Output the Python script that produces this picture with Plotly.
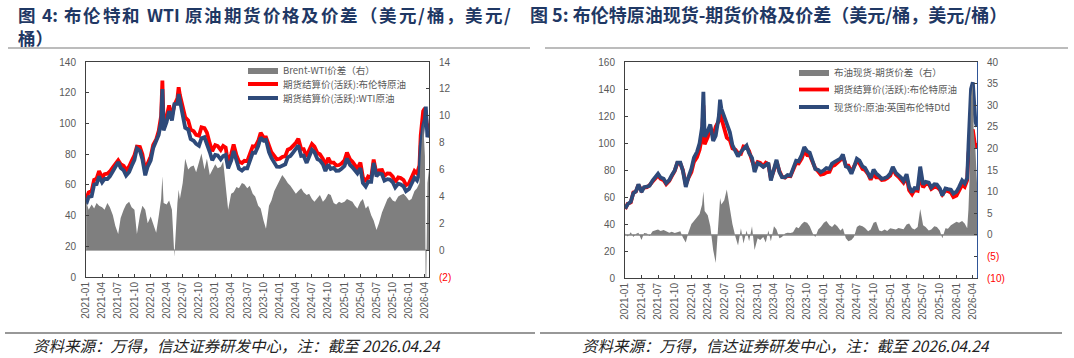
import plotly.graph_objects as go

# ---------------- data (semi-monthly readings from the picture) ----------------
dates = (
    [f"2021-{m:02d}-{d}" for m in range(1, 13) for d in ("01", "15")]
    + ["2022-01-01", "2022-01-15", "2022-02-01", "2022-02-15", "2022-03-01", "2022-03-08",
       "2022-03-15", "2022-04-01", "2022-04-15", "2022-05-01", "2022-05-15", "2022-06-01",
       "2022-06-08", "2022-06-15", "2022-07-01", "2022-07-15", "2022-08-01", "2022-08-15",
       "2022-09-01", "2022-09-15", "2022-10-01", "2022-10-15", "2022-11-01", "2022-11-15",
       "2022-12-01", "2022-12-15"]
    + [f"{y}-{m:02d}-{d}" for y in (2023, 2024, 2025) for m in range(1, 13) for d in ("01", "15")]
    + ["2026-01-01", "2026-01-15", "2026-02-01", "2026-02-15", "2026-03-01", "2026-03-08",
       "2026-03-15", "2026-03-22", "2026-04-01", "2026-04-06", "2026-04-15", "2026-04-24"]
)

brent_fut = [
    51.1, 55.1, 56.0, 63.3, 64.0, 68.9, 64.9, 66.9, 67.3, 68.7, 71.4, 74.0, 76.0, 73.5, 72.4, 69.5, 72.0, 75.5, 79.3, 84.9, 84.7, 80.0, 69.2, 73.9,
    78.5, 86.0, 89.5, 95.0, 105.0, 127.9, 99.0, 104.4, 111.7, 105.0, 112.0, 116.3, 123.6, 118.5, 111.6, 104.0, 102.0, 96.0, 95.0, 92.5, 92.0, 97.5, 97.0, 94.0, 87.0, 82.0,
    85.9, 85.3, 82.8, 85.4, 84.3, 73.7, 79.9, 86.3, 79.3, 75.2, 74.3, 75.7, 75.4, 79.9, 85.1, 84.9, 88.6, 93.9, 91.0, 90.9, 84.6, 81.2, 78.9, 76.6,
    77.0, 78.2, 78.7, 82.9, 83.6, 85.3, 87.4, 90.1, 83.4, 83.3, 78.4, 82.6, 86.6, 84.9, 80.7, 80.0, 76.9, 72.8, 77.5, 74.5, 74.5, 72.6, 72.9, 73.9,
    75.9, 81.0, 76.7, 75.0, 73.0, 70.6, 74.5, 65.0, 62.0, 65.4, 64.6, 76.5, 67.1, 69.5, 69.7, 65.9, 67.5, 67.4, 65.4, 61.9, 64.8, 64.4, 63.2, 59.9,
    61.0, 64.5, 69.0, 67.5, 72.5, 92.0, 103.0, 108.0, 110.0, 106.0, 96.0, 100.0,
]

wti_fut = [
    47.5, 52.1, 52.6, 60.2, 60.5, 65.6, 61.7, 63.9, 63.8, 65.5, 68.8, 72.2, 74.8, 71.1, 69.4, 66.1, 68.4, 72.3, 76.3, 83.7, 82.1, 76.7, 66.2, 71.9,
    76.0, 84.0, 88.2, 92.5, 101.2, 122.4, 95.5, 101.0, 108.0, 102.0, 112.5, 112.8, 119.1, 114.7, 106.6, 97.2, 96.0, 89.8, 88.7, 86.7, 85.5, 90.3, 91.0, 87.2, 81.4, 76.0,
    79.5, 79.2, 76.6, 78.8, 79.5, 70.7, 75.7, 82.0, 74.6, 70.6, 69.3, 70.8, 70.8, 75.1, 80.9, 80.9, 85.3, 90.8, 88.8, 89.3, 81.3, 77.5, 74.5, 71.8,
    71.7, 72.6, 73.4, 77.9, 78.8, 80.8, 83.2, 85.7, 78.8, 79.0, 74.3, 78.4, 82.8, 81.3, 76.8, 75.9, 73.3, 69.0, 73.3, 70.4, 71.0, 69.2, 69.3, 70.4,
    72.3, 77.2, 73.0, 71.4, 69.7, 67.5, 70.9, 61.2, 58.9, 62.1, 62.0, 74.3, 65.6, 67.5, 66.9, 62.7, 63.7, 63.4, 61.7, 58.3, 60.8, 60.3, 59.0, 55.9,
    57.3, 60.7, 64.6, 62.9, 67.5, 85.0, 94.5, 98.5, 103.0, 111.0, 91.0, 94.0,
]

brent_wti_spread = [
    3.6, 3.0, 3.4, 3.1, 3.5, 3.3, 3.2, 3.0, 3.5, 3.2, 2.6, 1.8, 1.2, 2.4, 3.0, 3.4, 3.6, 3.2, 3.0, 1.2, 2.6, 3.3, 3.0, 2.0,
    2.5, 2.0, 1.3, 2.5, 3.8, 5.5, 3.5, 3.4, 3.7, 3.0, -0.5, 3.5, 4.5, 3.8, 5.0, 6.8, 6.0, 6.2, 6.3, 5.8, 6.5, 7.2, 6.0, 6.8, 5.6, 6.0,
    6.4, 6.1, 6.2, 6.6, 4.8, 3.0, 4.2, 4.3, 4.7, 4.6, 5.0, 4.9, 4.6, 4.8, 4.2, 4.0, 3.3, 3.1, 2.2, 1.6, 3.3, 3.7, 4.4, 4.8,
    5.3, 5.6, 5.3, 5.0, 4.8, 4.5, 4.2, 4.4, 4.6, 4.3, 4.1, 4.2, 3.8, 3.6, 3.9, 4.1, 3.6, 3.8, 4.2, 4.1, 3.5, 3.4, 3.6, 3.5,
    3.6, 3.8, 3.7, 3.6, 3.3, 3.1, 3.6, 3.8, 3.1, 3.3, 2.6, 2.2, 1.5, 2.0, 2.8, 3.2, 3.8, 4.0, 3.7, 3.6, 4.0, 4.1, 4.2, 4.0,
    3.7, 3.8, 4.4, 4.6, 5.0, 7.0, 8.5, 9.5, 7.0, -5.0, 5.0, 6.0,
]

brent_dtd = [
    51.4, 54.7, 56.6, 62.8, 64.2, 69.4, 63.7, 67.3, 67.6, 68.4, 72.2, 75.0, 77.2, 74.4, 73.5, 70.3, 72.5, 76.2, 79.7, 85.5, 85.5, 79.4, 67.4, 74.4,
    81.0, 89.2, 93.5, 99.8, 112.0, 137.9, 104.5, 108.9, 113.7, 101.5, 105.5, 119.8, 132.1, 125.5, 119.6, 114.5, 108.0, 98.5, 94.5, 90.0, 93.5, 95.5, 98.0, 92.5, 89.0, 78.5,
    85.1, 84.1, 82.3, 83.6, 85.3, 72.2, 81.9, 87.5, 78.5, 74.7, 74.6, 76.2, 75.8, 80.5, 86.9, 86.4, 91.1, 96.9, 93.8, 92.9, 84.9, 80.7, 80.1, 78.4,
    79.8, 81.4, 80.9, 84.7, 86.1, 87.3, 88.4, 91.6, 82.6, 81.8, 77.2, 82.1, 88.4, 87.1, 82.7, 81.6, 77.7, 74.0, 80.3, 77.5, 75.5, 73.4, 74.1, 74.8,
    77.4, 82.3, 77.9, 76.6, 74.5, 71.9, 76.9, 67.6, 63.5, 66.6, 66.4, 82.5, 69.3, 71.3, 70.7, 67.1, 69.5, 69.2, 66.4, 61.1, 66.3, 65.8, 65.4, 62.5,
    64.0, 67.3, 72.2, 70.1, 74.0, 98.0, 117.0, 140.0, 145.0, 130.0, 116.0, 112.0,
]

spot_fut_spread = [
    0.3, -0.4, 0.6, -0.5, 0.2, 0.5, -1.2, 0.4, 0.3, -0.3, 0.8, 1.0, 1.2, 0.9, 1.1, 0.8, 0.5, 0.7, 0.4, 0.6, 0.8, -0.6, -1.8, 0.5,
    2.5, 3.2, 4.0, 4.8, 7.0, 10.0, 5.5, 4.5, 2.0, -3.5, -6.5, 3.5, 8.5, 7.0, 8.0, 10.5, 6.0, 2.5, -0.5, -2.5, 1.5, -2.0, 1.0, -1.5, 2.0, -3.5,
    -0.8, -1.2, -0.5, -1.8, 1.0, -1.5, 2.0, 1.2, -0.8, -0.5, 0.3, 0.5, 0.4, 0.6, 1.8, 1.5, 2.5, 3.0, 2.8, 2.0, 0.3, -0.5, 1.2, 1.8,
    2.8, 3.2, 2.2, 1.8, 2.5, 2.0, 1.0, 1.5, -0.8, -1.5, -1.2, -0.5, 1.8, 2.2, 2.0, 1.6, 0.8, 1.2, 2.8, 3.0, 1.0, 0.8, 1.2, 0.9,
    1.5, 1.3, 1.2, 1.6, 1.5, 1.3, 2.4, 2.6, 1.5, 1.2, 1.8, 6.0, 2.2, 1.8, 1.0, 1.2, 2.0, 1.8, 1.0, -0.8, 1.5, 1.4, 2.2, 2.6,
    3.0, 2.8, 3.2, 2.6, 1.5, 6.0, 14.0, 32.0, 35.0, 24.0, 20.0, 12.0,
]

left_y_ticks = [0, 20, 40, 60, 80, 100, 120, 140]
left_y2_ticks = [-2, 0, 2, 4, 6, 8, 10, 12, 14]
right_y_ticks = [0, 20, 40, 60, 80, 100, 120, 140, 160]
right_y2_ticks = [-10, -5, 0, 5, 10, 15, 20, 25, 30, 35, 40]

NB = "\u00a0"
# left title line 1 is justified in the original: split into tokens
title_left_tokens = ["图", "4:", "布", "伦", "特", "和", "WTI", "原", "油", "期", "货", "价", "格", "及", "价", "差",
                     "（", "美", "元", "/", "桶", "，", "美", "元", "/"]
title_left_2 = "桶）"
title_right = f"图{NB}5:{NB}布伦特原油现货-期货价格及价差（美元/桶，美元/桶）"
source_text = "资料来源：万得，信达证券研发中心，注：截至 2026.04.24"

names_left = ["Brent-WTI价差（右）", "期货结算价(活跃):布伦特原油", "期货结算价(活跃):WTI原油"]
names_right = ["布油现货-期货价差（右）", "期货结算价(活跃):布伦特原油", "现货价:原油:英国布伦特Dtd"]

# ---------------- styling ----------------
W, H = 1074, 358
RED = "#FF0000"
BLUE = "#2E4A7A"
GRAY = "#7F7F7F"
TXT = "#595959"
AX = "#404040"
NUM_FONT = "Liberation Sans, Arial, sans-serif"
CJK = "Noto Sans CJK SC, sans-serif"
TFS = 17.5  # title font size


def px_x(p):
    return p / W


def px_y(p):
    return 1 - p / H


def neg_label(v):
    if v < 0:
        return f"<span style='color:#FF0000'>({abs(v)})</span>"
    return str(v)


fig = go.Figure()

# left chart
fig.add_trace(go.Scatter(x=dates, y=brent_wti_spread, name=names_left[0], mode="lines",
                         line=dict(width=0, color=GRAY), fill="tozeroy", fillcolor=GRAY,
                         xaxis="x", yaxis="y2", legend="legend"))
fig.add_trace(go.Scatter(x=dates, y=brent_fut, name=names_left[1], mode="lines",
                         line=dict(width=3.8, color=RED), xaxis="x", yaxis="y", legend="legend2"))
fig.add_trace(go.Scatter(x=dates, y=wti_fut, name=names_left[2], mode="lines",
                         line=dict(width=3.8, color=BLUE), xaxis="x", yaxis="y", legend="legend3"))

# right chart
fig.add_trace(go.Scatter(x=dates, y=spot_fut_spread, name=names_right[0], mode="lines",
                         line=dict(width=0, color=GRAY), fill="tozeroy", fillcolor=GRAY,
                         xaxis="x3", yaxis="y4", legend="legend4"))
fig.add_trace(go.Scatter(x=dates, y=brent_fut, name=names_right[1], mode="lines",
                         line=dict(width=3.8, color=RED), xaxis="x3", yaxis="y3", legend="legend5"))
fig.add_trace(go.Scatter(x=dates, y=brent_dtd, name=names_right[2], mode="lines",
                         line=dict(width=3.8, color=BLUE), xaxis="x3", yaxis="y3", legend="legend6"))

xcommon = dict(type="date", dtick="M3", tick0="2021-01-01", tickformat="%Y-%m", tickangle=-90,
               ticks="inside", ticklen=3, tickcolor=AX, showline=True, linecolor=AX, linewidth=1,
               mirror=True, showgrid=False, zeroline=False, automargin=False,
               tickfont=dict(family=NUM_FONT, size=10, color=TXT))
ycommon = dict(ticks="inside", ticklen=3, tickcolor=AX, showline=True, linewidth=1,
               showgrid=False, automargin=False, tickfont=dict(family=NUM_FONT, size=10, color=TXT),
               ticklabelstandoff=7)

L_dom_x = [px_x(86), px_x(429)]
L_dom_y = [px_y(277), px_y(62)]
R_dom_x = [px_x(625), px_x(977)]
R_dom_y = [px_y(278), px_y(62)]

fig.update_layout(
    width=W, height=H, autosize=False,
    margin=dict(l=0, r=0, t=0, b=0, autoexpand=False),
    paper_bgcolor="white", plot_bgcolor="white",
    font=dict(family=CJK, color=TXT),
    xaxis=dict(domain=L_dom_x, anchor="y", range=["2020-12-31", "2026-04-24"], **xcommon),
    yaxis=dict(domain=L_dom_y, anchor="x", range=[0, 140], tickvals=left_y_ticks, zeroline=False,
               linecolor=AX, **ycommon),
    yaxis2=dict(overlaying="y", side="right", anchor="x", range=[-2, 14], tickvals=left_y2_ticks,
                ticktext=[neg_label(v) for v in left_y2_ticks], linecolor=AX,
                zeroline=True, zerolinecolor="#BFBFBF", zerolinewidth=1.5, **ycommon),
    xaxis3=dict(domain=R_dom_x, anchor="y3", range=["2020-12-31", "2026-04-24"], **xcommon),
    yaxis3=dict(domain=R_dom_y, anchor="x3", range=[0, 160], tickvals=right_y_ticks, zeroline=False,
                linecolor=AX, **ycommon),
    yaxis4=dict(overlaying="y3", side="right", anchor="x3", range=[-10, 40], tickvals=right_y2_ticks,
                ticktext=[neg_label(v) for v in right_y2_ticks], linecolor="#2F5597",
                zeroline=True, zerolinecolor="#A6A6A6", zerolinewidth=1.5, **ycommon),
    showlegend=True,
)

legend_style = dict(xanchor="left", yanchor="middle", bgcolor="rgba(0,0,0,0)",
                    font=dict(family=CJK, size=9.5, color=TXT), itemwidth=30, tracegroupgap=0)
legend_pos = {"legend": (243, 70), "legend2": (243, 84), "legend3": (243, 98),
              "legend4": (794, 72), "legend5": (794, 89.5), "legend6": (794, 107)}
fig.update_layout({k: dict(x=px_x(xp), y=px_y(yp), **legend_style) for k, (xp, yp) in legend_pos.items()})

TITLE_COLOR = "#1F3864"


def token_width(t):
    # approximate advance widths of bold Noto Sans CJK at TFS
    if t == "4:":
        return 0.84 * TFS
    if t == "WTI":
        return 1.78 * TFS
    if t == "/":
        return 0.38 * TFS
    return TFS


# justify line 1 between x=17 and x=510, with wider gaps where the original has spaces
wide_after = {0, 1, 5, 6}
start, end = 17.0, 510.0
natural = sum(token_width(t) for t in title_left_tokens)
n_gaps = len(title_left_tokens) - 1
extra_wide = 5.0
g = (end - start - natural - extra_wide * len(wide_after)) / n_gaps

ann = []
xcur = start
for i, t in enumerate(title_left_tokens):
    ann.append(dict(text=f"<b>{t}</b>", x=px_x(xcur), y=px_y(14), xanchor="left", yanchor="middle",
                    font=dict(family=CJK, size=TFS, color=TITLE_COLOR)))
    xcur += token_width(t) + g + (extra_wide if i in wide_after else 0)

ann += [
    dict(text=f"<b>{title_left_2}</b>", x=px_x(17), y=px_y(37), xanchor="left", yanchor="middle",
         font=dict(family=CJK, size=TFS, color=TITLE_COLOR)),
    dict(text=f"<b>{title_right}</b>", x=px_x(529), y=px_y(14), xanchor="left", yanchor="middle",
         font=dict(family=CJK, size=18, color=TITLE_COLOR)),
    dict(text=f"<i>{source_text}</i>", x=px_x(32), y=px_y(345), xanchor="left", yanchor="middle",
         font=dict(family=CJK, size=15.5, color="#222222")),
    dict(text=f"<i>{source_text}</i>", x=px_x(581), y=px_y(345), xanchor="left", yanchor="middle",
         font=dict(family=CJK, size=15.5, color="#222222")),
]
for a in ann:
    a.update(xref="paper", yref="paper", showarrow=False, borderpad=0)
fig.update_layout(annotations=ann)

shapes = [
    dict(type="line", x0=px_x(8), x1=px_x(530), y0=px_y(48), y1=px_y(48), line=dict(color="#A6A6A6", width=1.5)),
    dict(type="line", x0=px_x(545), x1=px_x(1068), y0=px_y(48), y1=px_y(48), line=dict(color="#A6A6A6", width=1.5)),
    dict(type="line", x0=px_x(5), x1=px_x(535), y0=px_y(333), y1=px_y(333), line=dict(color="#333333", width=1.2)),
    dict(type="line", x0=px_x(540), x1=px_x(1062), y0=px_y(333), y1=px_y(333), line=dict(color="#333333", width=1.2)),
]
for s in shapes:
    s.update(xref="paper", yref="paper")
fig.update_layout(shapes=shapes)

fig.write_html("out.html", config={"displayModeBar": False})
